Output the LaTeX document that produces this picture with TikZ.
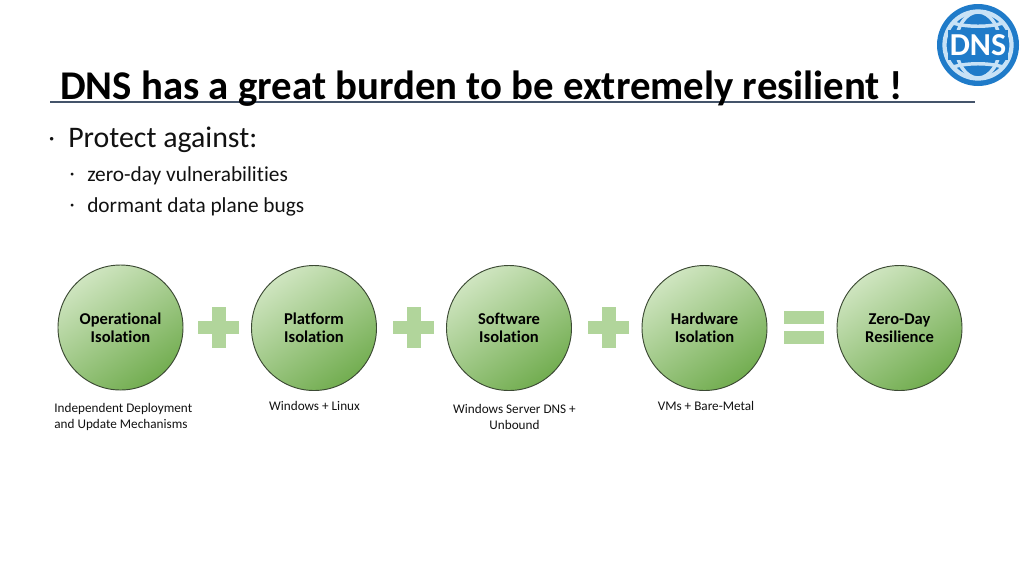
\documentclass[tikz,border=0pt]{standalone}
\usepackage{fontspec}
\setmainfont[Ligatures=NoCommon]{Carlito}
\definecolor{rulec}{HTML}{44546A}
\definecolor{gl}{HTML}{CFE5C0}
\definecolor{gd}{HTML}{72AD50}
\definecolor{symc}{HTML}{B1D59B}
\definecolor{lblue}{HTML}{C8E2F6}
\definecolor{dblue}{HTML}{1F7BC9}
\definecolor{txt}{HTML}{111111}
\definecolor{ballline}{HTML}{3C4A34}
\tikzset{
  ball/.style={circle,minimum size=125*0.75pt,inner sep=0pt,draw=ballline,line width=0.7pt,
    top color=gl,bottom color=gd,shading angle=35,align=center,text=black,
    font=\fontsize{12.4}{13.5}\selectfont\bfseries},
  sym/.style={fill=symc,draw=none},
  captext/.style={align=center,text=txt,font=\fontsize{9.9}{12}\selectfont},
  bul/.style={anchor=west,text=txt,inner sep=0pt},
  globeline/.style={draw=lblue,line width=2.6pt}
}
\begin{document}
\begin{tikzpicture}[x=0.75pt,y=-0.75pt]
\useasboundingbox (0,0) rectangle (1024,576);
\draw[rulec,line width=1.5pt] (50,102) -- (975,102);
\node[anchor=base west,inner sep=0pt,text=black,font=\fontsize{30.6}{32}\selectfont\bfseries] (title) at (60,99) {DNS has a great burden to be extremely resilient !};
\node[bul,font=\fontsize{26}{24}\selectfont] (d1) at (47,140) {$\cdot$};
\node[bul,font=\fontsize{22.4}{24}\selectfont] (t1) at (68,140) {Protect against:};
\node[bul,font=\fontsize{20}{18}\selectfont] (d2) at (68,175) {$\cdot$};
\node[bul,font=\fontsize{16}{18}\selectfont] (t2) at (87,176) {zero-day vulnerabilities};
\node[bul,font=\fontsize{20}{18}\selectfont] (d3) at (68,206) {$\cdot$};
\node[bul,font=\fontsize{16}{18}\selectfont] (t3) at (87,207) {dormant data plane bugs};

\node[ball] (b1) at (120.5,327.5) {Operational\\Isolation};
\node[ball] (b2) at (314,328) {Platform\\Isolation};
\node[ball] (b3) at (509,328) {Software\\Isolation};
\node[ball] (b4) at (704.5,328) {Hardware\\Isolation};
\node[ball] (b5) at (899.5,328) {Zero-Day\\Resilience};

\foreach \c in {218.5,413.5,608.5}{
  \fill[sym] (\c-20.5,321) rectangle (\c+20.5,334);
  \fill[sym] (\c-7,307) rectangle (\c+7,348);
}
\fill[sym] (784,311) rectangle (824,324);
\fill[sym] (784,331) rectangle (824,344);

\node[captext,align=left,anchor=west] (c1) at (49.7,416.5) {Independent Deployment\\and Update Mechanisms};
\node[captext] (c2) at (314.5,405.5) {Windows + Linux};
\node[captext] (c3) at (514.5,416.5) {Windows Server DNS +\\Unbound};
\node[captext] (c4) at (706,405.5) {VMs + Bare-Metal};

% DNS globe
\fill[dblue] (978,45) circle (41);
\begin{scope}
\clip (978,45) circle (34);
\draw[globeline] (978,45) ellipse (22 and 33);
\draw[globeline] (948,21) .. controls (962,28) and (994,28) .. (1008,21);
\draw[globeline] (948,69) .. controls (962,62) and (994,62) .. (1008,69);
\end{scope}
\draw[lblue,line width=3.2pt] (978,45) circle (33.5);
\fill[dblue] (948,30) rectangle (1008,60);
\node[inner sep=0pt,text=white,font=\fontsize{24}{24}\selectfont\bfseries] (dns) at (978,45.5) {DNS};
\end{tikzpicture}
\end{document}
